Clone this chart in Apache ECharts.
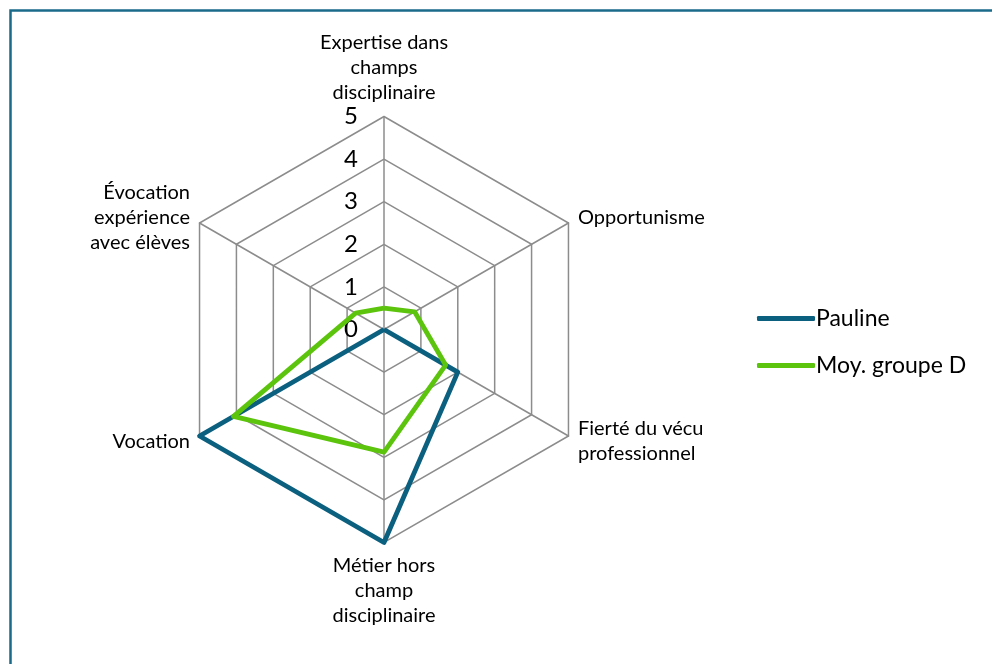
<!DOCTYPE html>
<html><head><meta charset="utf-8">
<script src="https://cdn.jsdelivr.net/npm/echarts@6/dist/echarts.min.js"></script>
<style>html,body{margin:0;padding:0;background:#fff}#c{width:992px;height:664px}</style>
</head><body><div id="c"></div>
<script>
const categories = [
  'Expertise dans\nchamps\ndisciplinaire',
  'Opportunisme',
  'Fierté du vécu\nprofessionnel',
  'Métier hors\nchamp\ndisciplinaire',
  'Vocation',
  'Évocation\nexpérience\navec élèves'
];
const axisMax = 5;
const pauline = [0, 0, 2, 5, 5, 0];
const moyGroupeD = [0.5, 0.83, 1.67, 2.88, 4.08, 0.77];
const seriesNames = ['Pauline', 'Moy. groupe D'];
const colors = ['#0b5f7f', '#5cc40c'];

// ECharts radar runs counter-clockwise; reorder so categories run clockwise from top
const order = categories.map((_, i) => (categories.length - i) % categories.length);
const cw = arr => order.map(i => arr[i]);

const FONT = 'Lato';
const chart = echarts.init(document.getElementById('c'));
chart.setOption({
  animation: false,
  backgroundColor: '#fff',
  textStyle: { fontFamily: FONT },
  graphic: [{
    type: 'rect', left: 8, top: 8, shape: { width: 1100, height: 800 },
    style: { fill: 'none', stroke: '#1a6a8a', lineWidth: 2.5 }, silent: true, z: 100
  }],
  legend: {
    orient: 'vertical', left: 752, top: 302, itemGap: 24,
    icon: 'roundRect', itemWidth: 58, itemHeight: 5,
    textStyle: { fontSize: 23, color: '#000', fontFamily: FONT, padding: [0, 0, 0, -4] },
    data: seriesNames
  },
  polar: { center: [384, 329.5], radius: 213 },
  angleAxis: { show: false, startAngle: 90, min: 0, max: 360 },
  radiusAxis: {
    min: 0, max: axisMax, interval: 1,
    axisLine: { show: false }, axisTick: { show: false }, splitLine: { show: false },
    axisLabel: { show: true, fontSize: 24, color: '#000', fontFamily: FONT, margin: 26 }
  },
  radar: {
    center: [384, 329.5], radius: 213, shape: 'polygon', splitNumber: 5, startAngle: 90,
    indicator: cw(categories).map(n => ({ name: n, min: 0, max: axisMax })),
    axisName: { color: '#000', fontSize: 20, fontFamily: FONT, lineHeight: 25 },
    nameGap: 11,
    axisLine: { lineStyle: { color: '#8c8c8c', width: 1.5 } },
    splitLine: { lineStyle: { color: '#8c8c8c', width: 1.5 } },
    splitArea: { show: false }
  },
  series: [{
    type: 'radar',
    symbol: 'none',
    data: [
      { name: seriesNames[0], value: cw(pauline), lineStyle: { color: colors[0], width: 4.8 }, itemStyle: { color: colors[0] } },
      { name: seriesNames[1], value: cw(moyGroupeD), lineStyle: { color: colors[1], width: 4.8 }, itemStyle: { color: colors[1] } }
    ]
  }]
});
</script></body></html>
